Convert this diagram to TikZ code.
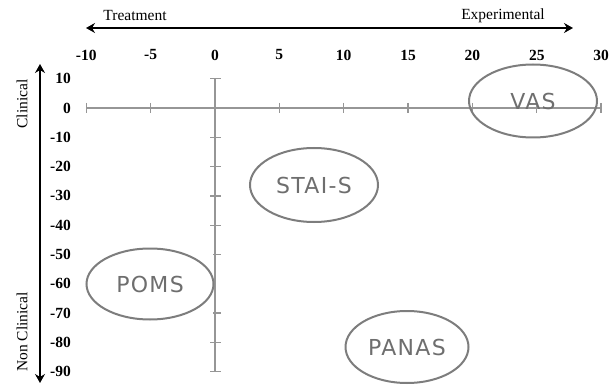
\documentclass[tikz,border=0pt]{standalone}
\usepackage{fontspec}
\setmainfont{Liberation Serif}
\newfontfamily\ellfont[LetterSpace=6]{DejaVu Sans}
\usetikzlibrary{shapes.geometric,arrows.meta}
\definecolor{axisgray}{RGB}{150,150,150}
\definecolor{ellgray}{RGB}{125,125,125}
\definecolor{txtgray}{RGB}{110,110,110}
\begin{document}
\begin{tikzpicture}[x=1pt,y=-1pt,
  axisline/.style={draw=axisgray,line width=1.4pt},
  bigarrow/.style={draw=black,line width=2.5pt,{Stealth[length=9pt,width=10pt,inset=3pt]}-{Stealth[length=9pt,width=10pt,inset=3pt]}},
  ticklab/.style={font=\fontsize{15.5}{18}\selectfont\bfseries,inner sep=0pt},
  dirlab/.style={font=\fontsize{15.5}{18}\selectfont,inner sep=0pt},
  measure/.style={ellipse,draw=ellgray,line width=2pt,inner sep=0pt,text=txtgray,font=\ellfont\fontsize{22}{24}\selectfont}]
\useasboundingbox (0,0) rectangle (613,385);
% horizontal axis
\coordinate (hl) at (86,108);
\coordinate (hr) at (601,108);
\draw[axisline] (hl) -- (hr);
\foreach \u in {-10,-5,...,30}{
  \pgfmathsetmacro{\px}{215+12.87*\u}
  \draw[axisline] (\px,103) -- (\px,113);
  \node[ticklab] (xl\u) at (\px,55) {\u};
}
% vertical axis
\coordinate (vt) at (215,79);
\coordinate (vb) at (215,372);
\draw[axisline] (vt) -- (vb);
\foreach \v in {10,0,-10,-20,...,-90}{
  \pgfmathsetmacro{\py}{108-2.93*\v}
  \node[ticklab,anchor=east] (yl\v) at (71,\py) {\v};
}
\foreach \v in {10,-10,-20,-30,-40,-80,-90}{
  \pgfmathsetmacro{\py}{108-2.93*\v}
  \draw[axisline] (210,\py) -- (221,\py);
}
\foreach \v in {-50,-70}{
  \pgfmathsetmacro{\py}{108-2.93*\v}
  \draw[axisline] (213,\py) -- (221,\py);
}
% direction arrows
\coordinate (al) at (86,28);
\coordinate (ar) at (573,28);
\draw[bigarrow] (al) -- (ar);
\coordinate (at) at (40,64);
\coordinate (ab) at (40,383);
\draw[bigarrow] (at) -- (ab);
\node[dirlab] (treat) at (135,16) {Treatment};
\node[dirlab] (exper) at (503,16) {Experimental};
\node[dirlab,rotate=90] (clin) at (22,104) {Clinical};
\node[dirlab,rotate=90] (nonclin) at (22,332) {Non Clinical};
% measures
\node[measure,minimum width=128pt,minimum height=73pt] (vas) at (533,101) {VAS};
\node[measure,minimum width=128pt,minimum height=74pt] (stai) at (314,185) {STAI-S};
\node[measure,minimum width=127pt,minimum height=71pt] (poms) at (150,284) {POMS};
\node[measure,minimum width=123pt,minimum height=72pt] (panas) at (407,347) {PANAS};
\end{tikzpicture}
\end{document}
